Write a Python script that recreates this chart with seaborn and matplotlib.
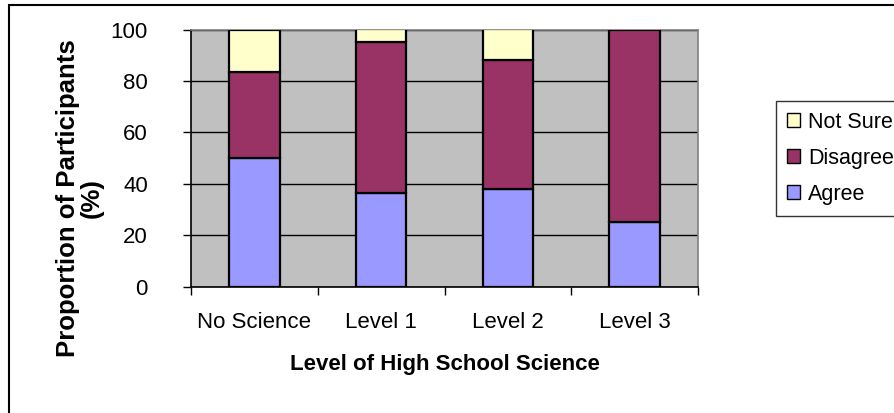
import numpy as np
import pandas as pd
import matplotlib
matplotlib.use("Agg")
import matplotlib.pyplot as plt
import matplotlib.patches as mpatches
import seaborn as sns

# ----------------------------
# Data
# ----------------------------
categories = ["No Science", "Level 1", "Level 2", "Level 3"]
agree = [50.0, 36.6, 38.0, 25.0]
disagree = [33.3, 58.5, 50.0, 75.0]
not_sure = [16.7, 4.9, 12.0, 0.0]

series_names = ["Agree", "Disagree", "Not Sure"]
series_colors = ["#9999FF", "#993366", "#FFFFCC"]

sns.set_style("white")
plt.rcParams["font.family"] = ["Liberation Sans", "DejaVu Sans"]
plt.rcParams["text.color"] = "black"
plt.rcParams["axes.labelcolor"] = "black"
plt.rcParams["xtick.color"] = "black"
plt.rcParams["ytick.color"] = "black"

fig = plt.figure(figsize=(8.94, 4.13), dpi=100)
ax = fig.add_axes([191 / 894, 1 - 286.7 / 413, (698 - 191) / 894, (286.7 - 29.5) / 413])
ax.set_facecolor("#C0C0C0")

# ----------------------------
# Stacked bars
# ----------------------------
df = pd.DataFrame({"cat": categories, "Agree": agree, "Disagree": disagree, "Not Sure": not_sure})
bottom = np.zeros(len(categories))
for name, col in zip(series_names, series_colors):
    vals = df[name].to_numpy()
    sns.barplot(data=df, x="cat", y=name, color=col, saturation=1, width=0.4,
                bottom=bottom, edgecolor="black", linewidth=1.6, ax=ax, zorder=3)
    bottom = bottom + vals

ax.set_xlim(-0.5, 3.5)
ax.set_ylim(0, 100)

# gridlines
ax.set_yticks([0, 20, 40, 60, 80, 100])
ax.set_yticklabels(["0", "20", "40", "60", "80", "100"], fontsize=16)
ax.yaxis.grid(True, color="black", linewidth=1)
ax.set_axisbelow(True)

# x ticks at category boundaries, labels at centres
ax.set_xticks([-0.5, 0.5, 1.5, 2.5, 3.5])
ax.set_xticklabels([])
ax.set_xticks([0, 1, 2, 3], minor=True)
ax.set_xticklabels(categories, minor=True, fontsize=16)
ax.tick_params(axis="x", which="major", direction="out", length=6, width=1, bottom=True)
ax.tick_params(axis="x", which="minor", length=0, pad=18)
ax.tick_params(axis="y", direction="out", length=6, width=1, left=True, pad=25)

for s in ["left", "bottom"]:
    ax.spines[s].set_color("black")
    ax.spines[s].set_linewidth(1.2)
for s in ["top", "right"]:
    ax.spines[s].set_color("#808080")
    ax.spines[s].set_linewidth(1.2)

ax.set_xlabel("Level of High School Science", fontsize=16, fontweight="bold", labelpad=15)
ax.set_ylabel("")
fig.text(80 / 894, 1 - 198 / 413, "Proportion of Participants\n(%)", rotation=90,
         ha="center", va="center", multialignment="center",
         fontsize=18.5, fontweight="bold", linespacing=1.0)

# ----------------------------
# Legend
# ----------------------------
handles = [mpatches.Patch(facecolor=c, edgecolor="black", linewidth=1, label=n)
           for n, c in zip(series_names, series_colors)][::-1]
leg = fig.legend(handles=handles, loc="upper left", bbox_to_anchor=(776 / 894, 1 - 101 / 413),
                 fontsize=15.5, frameon=True, fancybox=False, edgecolor="black",
                 handlelength=0.6, handleheight=0.6, handletextpad=0.4, borderpad=0.5,
                 labelspacing=0.7, borderaxespad=0)
leg.get_frame().set_linewidth(1)

# outer chart border (bottom/right beyond the image)
fig.patches.append(mpatches.Rectangle((9 / 894, -0.2), 1.5, 1.2 - 5 / 413, transform=fig.transFigure,
                                      fill=False, edgecolor="black", linewidth=1.5))

fig.savefig("out.png", dpi=100)
